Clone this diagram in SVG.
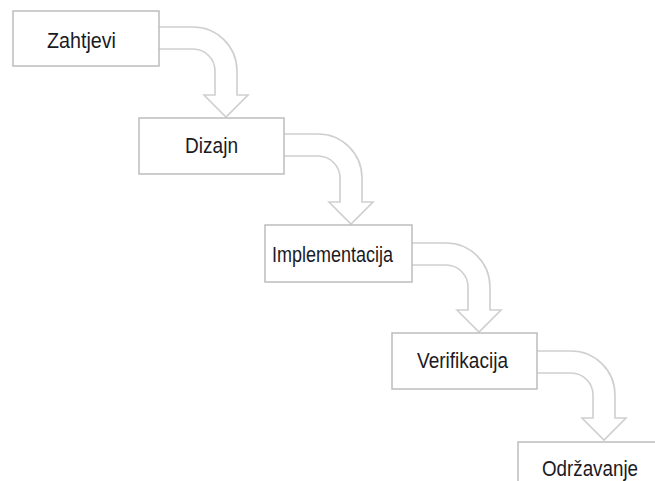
<svg xmlns="http://www.w3.org/2000/svg" width="655" height="481" viewBox="0 0 655 481">
<style>
.box{fill:#fff;stroke:#bdbdbd;stroke-width:1.5}
.arr{fill:#fff;stroke:#cfcfcf;stroke-width:1.6;stroke-linejoin:miter}
.lbl{font-family:"Liberation Sans",Arial,sans-serif;font-size:22px;fill:#1a1a24}
</style>
<rect width="655" height="481" fill="#fff"/>
<g id="connectors">
<path class="arr" d="M159,27 H193 A44,44 0 0 1 237,71 V95 H248 L226,117 L204,95 H215 V71 A22,22 0 0 0 193,49 H159"/>
<path class="arr" d="M284,134 H318 A44,44 0 0 1 362,178 V202 H373 L351,224 L329,202 H340 V178 A22,22 0 0 0 318,156 H284"/>
<path class="arr" d="M412,243 H446 A44,44 0 0 1 490,287 V310 H501 L479,332 L457,310 H468 V287 A22,22 0 0 0 446,265 H412"/>
<path class="arr" d="M537,351 H571 A44,44 0 0 1 615,395 V418 H626 L604,440 L582,418 H593 V395 A22,22 0 0 0 571,373 H537"/>
</g>
<g id="zahtjevi">
<rect class="box" x="13" y="11" width="146" height="55"/>
<text class="lbl" x="47" y="48" textLength="69" lengthAdjust="spacingAndGlyphs">Zahtjevi</text>
</g>
<g id="dizajn">
<rect class="box" x="139" y="118" width="145" height="56"/>
<text class="lbl" x="185" y="153" textLength="53" lengthAdjust="spacingAndGlyphs">Dizajn</text>
</g>
<g id="implementacija">
<rect class="box" x="265" y="225" width="147" height="57"/>
<text class="lbl" x="272" y="262" textLength="121" lengthAdjust="spacingAndGlyphs">Implementacija</text>
</g>
<g id="verifikacija">
<rect class="box" x="392" y="333" width="145" height="56"/>
<text class="lbl" x="417" y="368" textLength="91" lengthAdjust="spacingAndGlyphs">Verifikacija</text>
</g>
<g id="odrzavanje">
<rect class="box" x="518" y="442" width="146" height="56"/>
<text class="lbl" x="542" y="476" textLength="96" lengthAdjust="spacingAndGlyphs">Održavanje</text>
</g>
</svg>
